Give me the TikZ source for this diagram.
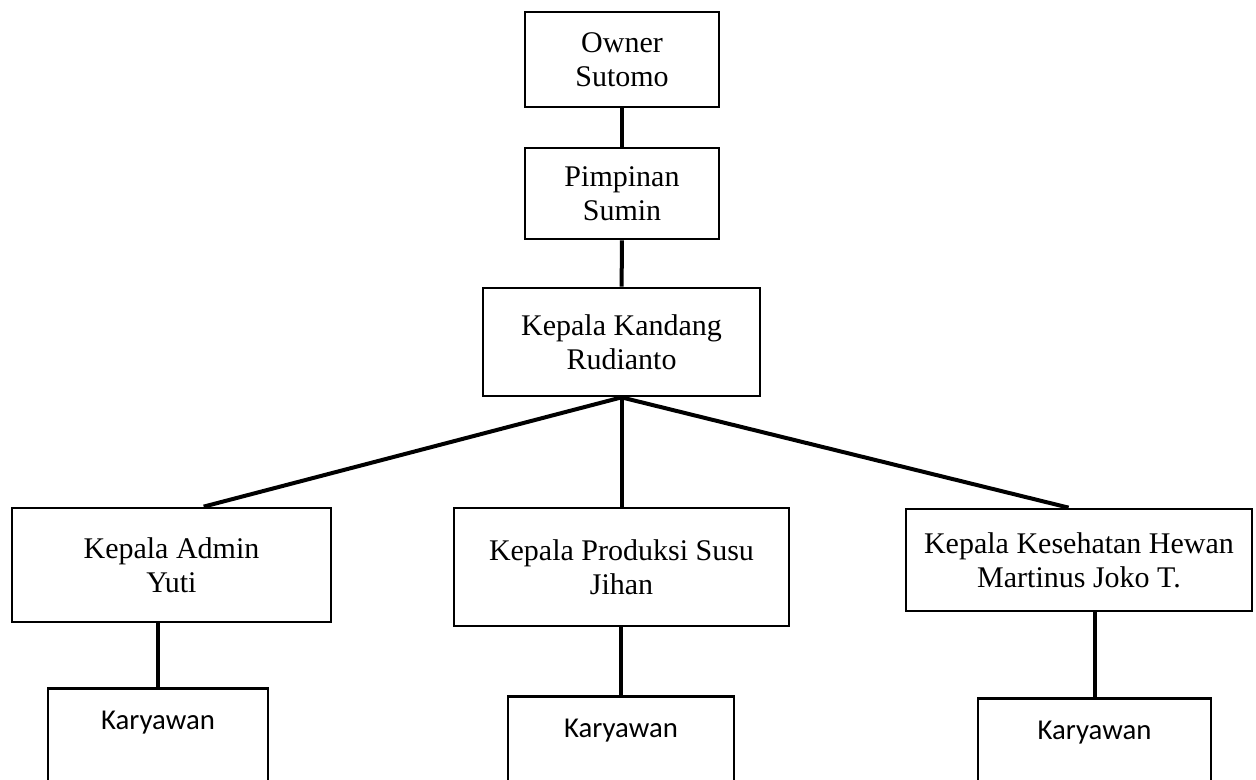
\documentclass[tikz,border=0pt]{standalone}
\usepackage{fontspec}
\setmainfont{Liberation Serif}
\newfontfamily\karfont{Carlito}
\usetikzlibrary{calc}

\begin{document}
\begin{tikzpicture}[x=0.4pt, y=-0.4pt,
        jabatan/.style={draw, line width=1.1pt, align=center, inner sep=0pt,
            font=\fontsize{12}{13.6}\selectfont},
        staf/.style={draw, line width=1.1pt, inner sep=0pt, anchor=north,
            text height=16.4pt, text depth=48pt,
            font=\karfont\fontsize{11.5}{13}\selectfont},
        garis/.style={line width=1.6pt}]
            \useasboundingbox (0,0) rectangle (1256,780);

            \node[jabatan, minimum width=77.6pt, minimum height=38pt] (owner) at (622,59.5) {Owner\\Sutomo};
            \node[jabatan, minimum width=77.6pt, minimum height=36.4pt] (pimpinan) at (622,193.5) {Pimpinan\\Sumin};
            \node[jabatan, minimum width=110.8pt, minimum height=43.2pt] (kandang) at (621.5,342) {Kepala Kandang\\Rudianto};

            \node[jabatan, minimum width=127.6pt, minimum height=45.6pt] (admin) at (171.5,565) {Kepala Admin\\Yuti};
            \node[jabatan, minimum width=134pt, minimum height=47.2pt] (produksi) at (621.5,567) {Kepala Produksi Susu\\Jihan};
            \node[jabatan, minimum width=138.4pt, minimum height=40.8pt] (kesehatan) at (1079,560) {Kepala Kesehatan Hewan\\Martinus Joko T.};

            \node[staf, minimum width=88pt] (kar1) at (158,687) {Karyawan};
            \node[staf, minimum width=90.4pt] (kar2) at (621,695) {Karyawan};
            \node[staf, minimum width=93.2pt] (kar3) at (1094.5,697) {Karyawan};

            \draw[garis] (owner) -- (pimpinan);
            \draw[garis] (pimpinan) -- (kandang);
            \draw[garis] (kandang.south) -- ($(admin.north west)!0.6!(admin.north east)$);
            \draw[garis] (kandang.south) -- (produksi.north);
            \draw[garis] (kandang.south) -- ($(kesehatan.north west)!0.47!(kesehatan.north east)$);

            \draw[garis] (kar1.north) -- (kar1.north |- admin.south);
            \draw[garis] (kar2.north) -- (kar2.north |- produksi.south);
            \draw[garis] (kar3.north) -- (kar3.north |- kesehatan.south);
        \end{tikzpicture}
\end{document}
